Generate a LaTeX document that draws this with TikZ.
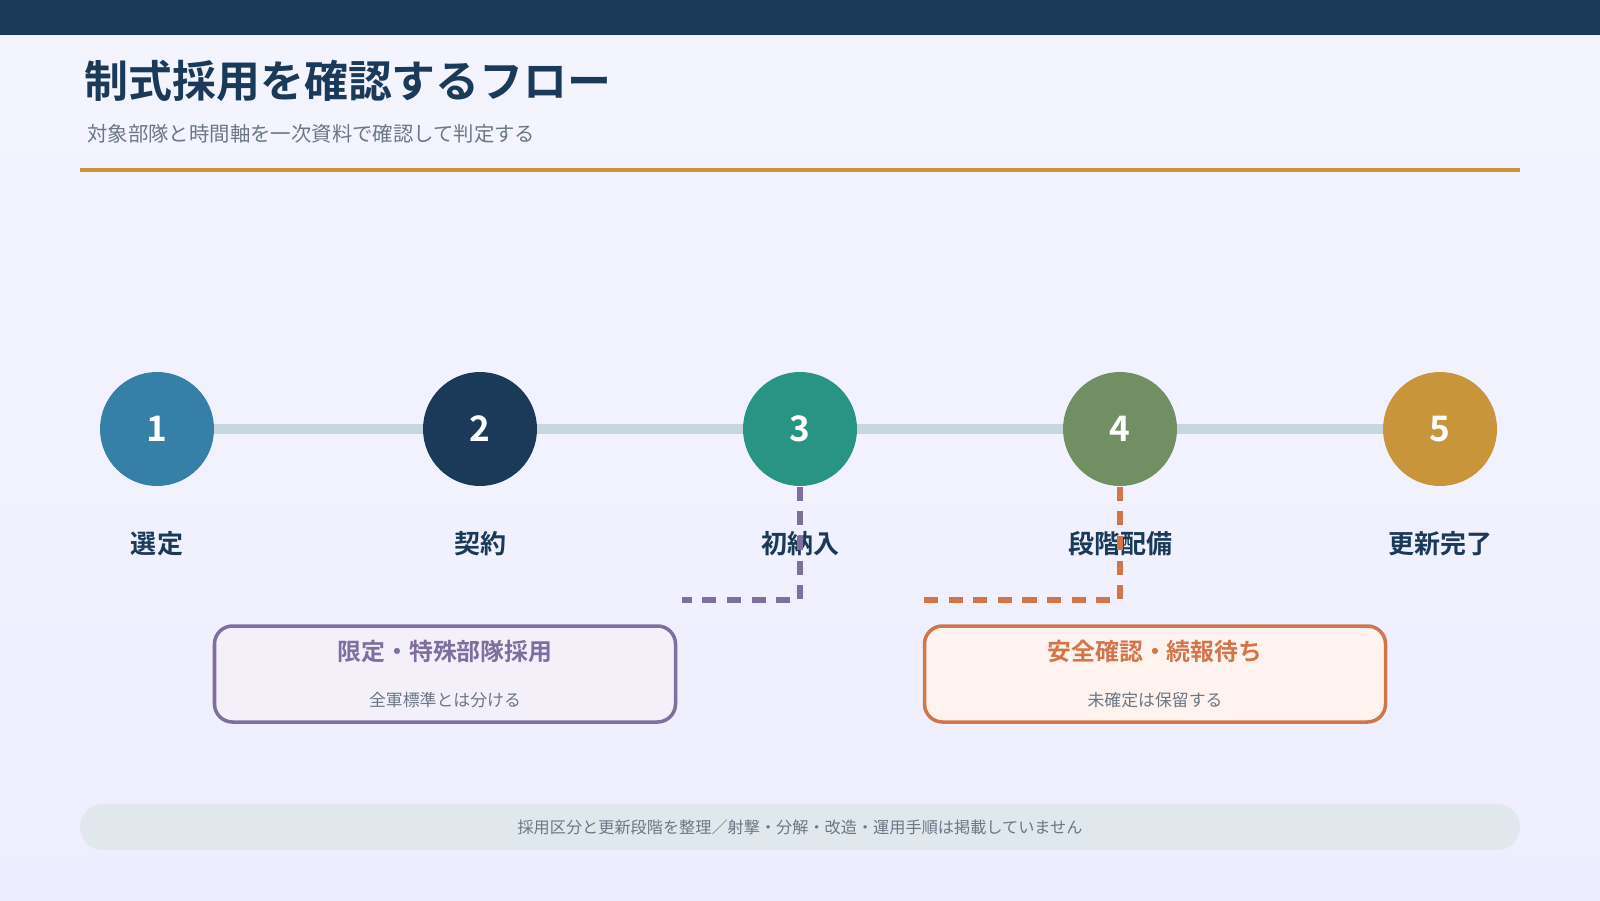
\documentclass[tikz,border=0pt]{standalone}
\usepackage{fontspec}
\setmainfont{Noto Sans CJK JP}[BoldFont={Noto Sans CJK JP Bold}]
\usetikzlibrary{positioning,calc}
\definecolor{navy}{HTML}{1B3A5A}
\definecolor{gold}{HTML}{C9953A}
\definecolor{stepa}{HTML}{3680A8}
\definecolor{stepc}{HTML}{2A9484}
\definecolor{stepd}{HTML}{718F62}
\definecolor{track}{HTML}{C8D6DF}
\definecolor{purp}{HTML}{7E6FA0}
\definecolor{purpfill}{HTML}{F3F0FA}
\definecolor{oran}{HTML}{D2764A}
\definecolor{oranfill}{HTML}{FEF3EE}
\definecolor{txtgray}{HTML}{6B7785}
\tikzset{
  stepdot/.style={circle,minimum size=1.14cm,inner sep=0pt,text=white,font=\bfseries\fontsize{10}{10}\selectfont},
  steplbl/.style={font=\bfseries\fontsize{7.4}{8}\selectfont,text=navy},
  note/.style={draw,line width=1pt,rounded corners=0.18cm,minimum width=4.61cm,minimum height=0.96cm},
  link/.style={line width=1.5pt,dash pattern=on 4pt off 3pt}
}
\begin{document}
\begin{tikzpicture}
  \fill[top color=white!96!blue,bottom color=white!93!blue] (0,0) rectangle (16,9);
  \useasboundingbox (0,0) rectangle (16,9);
  \fill[navy] (0,8.65) rectangle (16,9);
  \node (title) [anchor=west,text=navy,font=\bfseries\fontsize{12.5}{13}\selectfont] at (0.72,8.19) {制式採用を確認するフロー};
  \node (sub) [anchor=west,text=txtgray,font=\fontsize{5.8}{6}\selectfont] at (0.75,7.66) {対象部隊と時間軸を一次資料で確認して判定する};
  \draw[gold,line width=1.2pt] (0.8,7.3) -- (15.2,7.3);
  % timeline
  \draw[track,line width=3pt] (1.57,4.71) -- (14.40,4.71);
  \foreach \i/\x/\c/\t in {1/1.57/stepa/選定,2/4.80/navy/契約,3/8.00/stepc/初納入,4/11.20/stepd/段階配備,5/14.40/gold/更新完了}{
    \node (s\i) [stepdot,fill=\c] at (\x,4.71) {\i};
    \node (l\i) [steplbl,below=0.32 of s\i] {\t};
  }
  % notes
  \node (n1) [note,draw=purp,fill=purpfill,align=center] at (4.45,2.26)
    {{\color{purp}\bfseries\fontsize{6.8}{8}\selectfont 限定・特殊部隊採用}\\[1pt]{\color{txtgray}\fontsize{4.8}{6}\selectfont 全軍標準とは分ける}};
  \node (n2) [note,draw=oran,fill=oranfill,align=center] at (11.55,2.26)
    {{\color{oran}\bfseries\fontsize{6.8}{8}\selectfont 安全確認・続報待ち}\\[1pt]{\color{txtgray}\fontsize{4.8}{6}\selectfont 未確定は保留する}};
  \coordinate (k1) at (6.82,3.0);
  \coordinate (k2) at (9.24,3.0);
  \draw[link,purp] (s3.south) |- (k1);
  \draw[link,oran] (s4.south) |- (k2);
  % footer
  \fill[rounded corners=0.23cm,fill=track!55] (0.8,0.5) rectangle (15.2,0.96);
  \node (foot) [text=txtgray,font=\fontsize{4.6}{5}\selectfont] at (8,0.73) {採用区分と更新段階を整理／射撃・分解・改造・運用手順は掲載していません};
\end{tikzpicture}
\end{document}
